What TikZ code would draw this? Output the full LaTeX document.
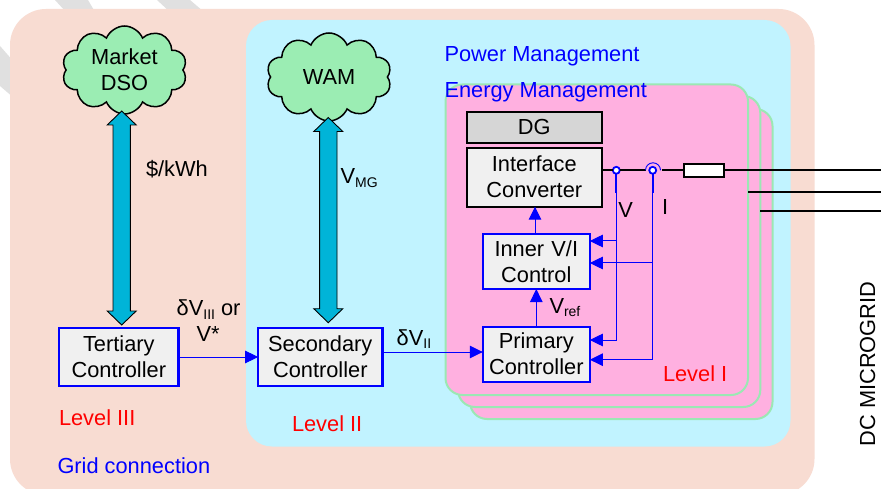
\documentclass[tikz,border=0pt]{standalone}
\usepackage{fontspec}
\setmainfont{Liberation Sans}
\usetikzlibrary{shapes.symbols,arrows.meta,calc}
\definecolor{outerbg}{HTML}{F8DCD2}
\definecolor{midbg}{HTML}{C1F3FF}
\definecolor{pinkbg}{HTML}{FFB0E0}
\definecolor{greenedge}{HTML}{9BE8B4}
\definecolor{cloudfill}{HTML}{9BEDB3}
\definecolor{arrowfill}{HTML}{00B4D8}
\definecolor{boxfill}{HTML}{F0F0F0}
\definecolor{dgfill}{HTML}{D6D6D6}
\definecolor{stripe}{HTML}{E0E0E0}
\newcommand{\subs}[1]{{\fontsize{14}{14}\selectfont\raisebox{-3.5pt}{#1}}}
\newcommand{\bigarrow}[2]{\draw[black,line width=0.9,fill=arrowfill,line join=miter]
  (#1) -- ($(#1)+(14.5,14)$) -- ($(#1)+(8.7,14)$) -- ($(#2)+(8.7,-14)$) -- ($(#2)+(14.5,-14)$) -- (#2)
  -- ($(#2)+(-14.5,-14)$) -- ($(#2)+(-8.7,-14)$) -- ($(#1)+(-8.7,14)$) -- ($(#1)+(-14.5,14)$) -- cycle;}
\tikzset{
  x=1pt,y=-1pt,
  every node/.style={font=\fontsize{21.8}{26}\selectfont,inner sep=0pt,outer sep=0pt},
  panel/.style={draw=greenedge,line width=2,fill=pinkbg,rounded corners=17},
  ctrl/.style={draw=blue,line width=2.2,fill=boxfill,align=center,minimum height=55,text width=107},
  blackbox/.style={draw=black,line width=2.2,align=center,text width=135},
  cloudy/.style={cloud,cloud puffs=10,cloud puff arc=135,aspect=1.5,draw=black,line width=1.5,fill=cloudfill,align=center,minimum width=125,minimum height=88},
  sig/.style={blue,line width=1,-{Triangle[length=13,width=12.5]}},
  sigplain/.style={blue,line width=2.2},
  lab/.style={anchor=base west},
  lev/.style={anchor=base west,text=red},
  mgmt/.style={anchor=base west,text=blue},
}
\begin{document}
\begin{tikzpicture}
\useasboundingbox (0,0) rectangle (881,489);
\fill[white] (0,0) rectangle (881,489);
% watermark stripes
\fill[stripe] (55,0) -- (88,0) -- (95,12) -- (66,12) -- cycle;
\fill[stripe] (157,0) -- (190,0) -- (204,12) -- (170,12) -- cycle;
\fill[stripe] (0,46) -- (14,62) -- (14,98) -- (0,86) -- cycle;
% panels
\fill[outerbg,rounded corners=36] (10,9) rectangle (814.5,495);
\fill[midbg,rounded corners=26] (246,20) rectangle (790.5,446.5);
\draw[panel] (470,109) rectangle (772.5,419);
\draw[panel] (458,96) rectangle (760.3,407);
\draw[panel] (445.5,84.5) rectangle (748,395);
% feeders
\draw[black,line width=1.6] (748,192) -- (881,192);
\draw[black,line width=1.6] (760.3,211) -- (881,211);
% clouds
\node[cloudy] (market) at (124.5,70) {Market\\DSO};
\node[cloudy] (wam) at (329,77) {WAM};
% boxes
\node[blackbox,fill=dgfill,minimum height=31] (dg) at (534.3,127.3) {DG};
\node[blackbox,fill=boxfill,minimum height=59] (conv) at (534.3,177.2) {Interface\\Converter};
\node[ctrl] (inner) at (536.3,261.5) {Inner V/I\\Control};
\node[ctrl] (prim) at (536.3,354.2) {Primary\\Controller};
\node[ctrl,minimum height=58.4,text width=119.3] (tert) at (118.8,357) {Tertiary\\Controller};
\node[ctrl,minimum height=58.4,text width=124.3] (sec) at (320.3,357) {Secondary\\Controller};
\node[draw=black,line width=2,fill=white,minimum width=40.6,minimum height=13.3] (res) at (704,170.3) {};
% taps
\node[circle,draw=blue,line width=1.8,fill=white,minimum size=7] (vtap) at (616.3,170.3) {};
\node[circle,draw=blue,line width=1.8,fill=white,minimum size=7] (itap) at (652.7,170.3) {};
\coordinate (gapL) at (645.5,170.3);
\coordinate (gapR) at (661.5,170.3);
\coordinate (vbr) at (616.3,193);
\coordinate (ibr) at (652.7,193);
% main line
\draw[black,line width=1.6] (conv.east |- vtap) -- (vtap);
\draw[black,line width=1.6] (vtap) -- (gapL);
\draw[black,line width=1.6] (gapR) -- (res);
\draw[black,line width=1.6] (res) -- (881,170.3);
\draw[blue,line width=0.9] (gapL) arc[start angle=180,end angle=360,radius=7.5];
% signal lines
\draw[sigplain] (vtap) -- (vbr);
\draw[sigplain] (itap) -- (ibr);
\draw[sig] (vtap) |- ($(inner.east)+(0,-20.5)$);
\draw[sig] (itap) |- ($(inner.east)+(0,1.5)$);
\draw[sig] (vtap) |- ($(prim.east)+(0,-14.2)$);
\draw[sig] (itap) |- ($(prim.east)+(0,5.5)$);
\draw[sig] ($(inner.north)+(-1.3,0)$) -- ($(conv.south)+(0.7,0)$);
\draw[sig] (prim.north) -- (inner.south);
\draw[sig] (tert.east) -- (sec.west);
\draw[sig] ($(sec.east)+(0,-5)$) -- ($(prim.west)+(0,-2.2)$);
% thick arrows
\coordinate (mtop) at (121.7,111);
\coordinate (mbot) at (121.7,325);
\coordinate (wtop) at (328.3,117.5);
\coordinate (wbot) at (328.3,322.7);
\bigarrow{mtop}{mbot}
\bigarrow{wtop}{wbot}
% labels
\node[lab] (t1) at (146,176.7) {\$/kWh};
\node[lab] (t2) at (340.7,184) {V\subs{MG}};
\node[lab] (t3) at (176.7,315.5) {δV\subs{III} or};
\node[lab] (t4) at (196.7,341.5) {V*};
\node[lab] (t5) at (396.7,345) {δV\subs{II}};
\node[lab] (t6) at (618.3,218) {V};
\node[lab] (t7) at (662,214.3) {I};
\node[lab] (t8) at (549.5,313) {V\subs{ref}};
\node[lev] (l1) at (663,381.5) {Level I};
\node[lev] (l3) at (59,425) {Level III};
\node[lev] (l2) at (292,431.7) {Level II};
\node[mgmt] (g1) at (57.5,473) {Grid connection};
\node[mgmt] (g2) at (444.5,61.5) {Power Management};
\node[mgmt] (g3) at (444.5,97.5) {Energy Management};
\node[anchor=base,rotate=90] (dc) at (875,364) {DC MICROGRID};
\end{tikzpicture}
\end{document}
